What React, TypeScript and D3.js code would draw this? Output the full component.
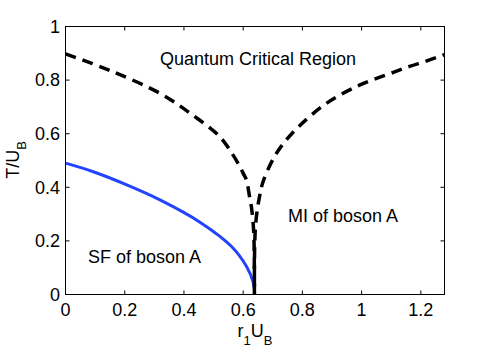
import React from "react";
import * as d3 from "d3";

const xTicks = [0, 0.2, 0.4, 0.6, 0.8, 1, 1.2];
const yTicks = [0, 0.2, 0.4, 0.6, 0.8, 1];

// SF boundary (blue)
const sfR = [0, 0.094, 0.207, 0.319, 0.454, 0.56, 0.611, 0.634, 0.639];
const sfT = [0.49, 0.458, 0.409, 0.353, 0.27, 0.18, 0.105, 0.045, 0];

// Crossover lines (dashed)
const leftR = [0, 0.15, 0.32, 0.43, 0.52, 0.566, 0.589, 0.6, 0.611, 0.622, 0.628, 0.634, 0.637, 0.638];
const leftT = [0.898, 0.836, 0.75, 0.669, 0.59, 0.52, 0.477, 0.452, 0.4275, 0.362, 0.326, 0.262, 0.185, 0];
const rightR = [0.638, 0.639, 0.643, 0.654, 0.667, 0.701, 0.735, 0.791, 0.881, 0.993, 1.105, 1.162, 1.218, 1.28];
const rightT = [0, 0.185, 0.272, 0.358, 0.42, 0.505, 0.562, 0.63, 0.713, 0.781, 0.828, 0.851, 0.871, 0.895];

const W = 491, H = 349;
const L = 65.5, R = 444.5, T = 26.5, B = 294.5;

export default function App() {
  const x = d3.scaleLinear().domain([0, 1.28]).range([L, R]);
  const y = d3.scaleLinear().domain([0, 1]).range([B, T]);
  const line = d3
    .line<[number, number]>()
    .x((d) => x(d[0]))
    .y((d) => y(d[1]))
    .curve(d3.curveCatmullRom.alpha(0.5));
  const zip = (a: number[], b: number[]) => a.map((v, i) => [v, b[i]] as [number, number]);
  const font = "Liberation Sans, Arial, Helvetica, sans-serif";
  const tl = 4;
  return (
    <svg width={W} height={H} style={{ position: "absolute", left: 0, top: 0, background: "#fff" }} fontFamily={font}>
      <rect x={0} y={0} width={W} height={H} fill="#fff" />
      <path d={line(zip(sfR, sfT)) || ""} fill="none" stroke="#2244ff" strokeWidth={3} />
      <path d={line(zip(leftR, leftT)) || ""} fill="none" stroke="#000" strokeWidth={3.5} strokeDasharray="11,7" />
      <path d={line(zip(rightR, rightT)) || ""} fill="none" stroke="#000" strokeWidth={3.5} strokeDasharray="11,7" />
      <rect x={L} y={T} width={R - L} height={B - T} fill="none" stroke="#000" strokeWidth={1} />
      {xTicks.map((t) => (
        <g key={"x" + t}>
          <line x1={x(t)} x2={x(t)} y1={B} y2={B - tl} stroke="#000" />
          <line x1={x(t)} x2={x(t)} y1={T} y2={T + tl} stroke="#000" />
          <text x={x(t)} y={316} fontSize={18} textAnchor="middle">{String(t)}</text>
        </g>
      ))}
      {yTicks.map((t) => (
        <g key={"y" + t}>
          <line x1={L} x2={L + tl} y1={y(t)} y2={y(t)} stroke="#000" />
          <line x1={R} x2={R - tl} y1={y(t)} y2={y(t)} stroke="#000" />
          <text x={60} y={y(t)} dy="0.35em" fontSize={18} textAnchor="end">{String(t)}</text>
        </g>
      ))}
      <text x={258} y={65} fontSize={18} textAnchor="middle">Quantum Critical Region</text>
      <text x={88} y={263} fontSize={18}>SF of boson A</text>
      <text x={288} y={222} fontSize={18}>MI of boson A</text>
      <text x={255} y={337} fontSize={18} textAnchor="middle">
        r<tspan fontSize={13} dy={8}>1</tspan><tspan dy={-8}>U</tspan><tspan fontSize={13} dy={8}>B</tspan>
      </text>
      <text transform="translate(19,160) rotate(-90)" fontSize={18} textAnchor="middle">
        T/U<tspan fontSize={13} dy={7}>B</tspan>
      </text>
    </svg>
  );
}
